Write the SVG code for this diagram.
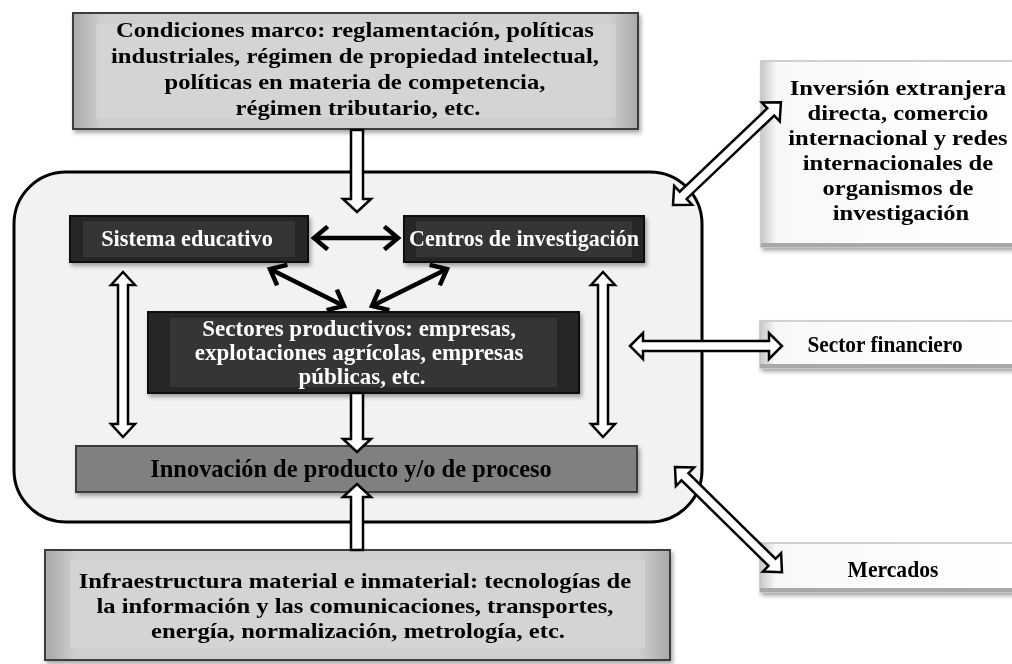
<svg xmlns="http://www.w3.org/2000/svg" width="1012" height="664" viewBox="0 0 1012 664">
  <defs>
    <style>
      .t { font-family: "Liberation Serif", "Times New Roman", serif; font-weight: bold; text-anchor: middle; }
      .dk { fill: #ffffff; }
      .bl { fill: #000000; }
      .hollow { fill: #ffffff; stroke: #000000; stroke-width: 2.5; stroke-linejoin: miter; }
      .solid { fill: none; stroke: #000000; stroke-width: 4.5; marker-start: url(#chev); marker-end: url(#chev); }
      .darkbox { fill: #262626; stroke: #111111; stroke-width: 2; }
      .darkin { fill: #353535; }
      .graybox { fill: url(#grayH); stroke: #3c3c3c; stroke-width: 2; }
      .grayin { fill: #d6d6d6; }
      .rbox { stroke: #c4c4c4; stroke-width: 1.5; }
      .redge { fill: #a8a8a8; }
    </style>
    <linearGradient id="grayH" x1="0" y1="0" x2="1" y2="0">
      <stop offset="0" stop-color="#a8a8a8"/>
      <stop offset="0.05" stop-color="#cfcfcf"/>
      <stop offset="0.95" stop-color="#cfcfcf"/>
      <stop offset="1" stop-color="#a8a8a8"/>
    </linearGradient>
    <linearGradient id="rH" x1="0" y1="0" x2="1" y2="0">
      <stop offset="0" stop-color="#c8c8c8"/>
      <stop offset="0.06" stop-color="#f8f8f8"/>
      <stop offset="1" stop-color="#ffffff"/>
    </linearGradient>
    <filter id="sh" x="-10%" y="-10%" width="120%" height="130%">
      <feDropShadow dx="2" dy="3" stdDeviation="2" flood-color="#000" flood-opacity="0.35"/>
    </filter>
    <marker id="chev" viewBox="-16 -13 20 26" refX="0" refY="0" markerWidth="20" markerHeight="26" markerUnits="userSpaceOnUse" orient="auto-start-reverse">
      <path d="M-12,-10 L0,0 L-12,10" fill="none" stroke="#000" stroke-width="4.5" stroke-linecap="square"/>
    </marker>
  </defs>

  <rect width="1012" height="664" fill="#ffffff"/>

  <!-- container -->
  <g id="container">
    <rect x="14" y="172" width="688" height="350" rx="52" ry="52" fill="#f2f2f2" stroke="#000" stroke-width="3"/>
  </g>

  <!-- nodes -->
  <g id="condiciones-marco" filter="url(#sh)">
    <rect class="graybox" x="73" y="13" width="565" height="116"/>
    <rect class="grayin" x="96" y="24" width="520" height="94" opacity="0.7"/>
    <text class="t bl" font-size="22" transform="translate(358,0) scale(1.12,1)">
      <tspan x="0" y="37">Condiciones marco: reglamentación, políticas</tspan>
      <tspan x="0" y="63">industriales, régimen de propiedad intelectual,</tspan>
      <tspan x="0" y="89">políticas en materia de competencia,</tspan>
      <tspan x="0" y="115">régimen tributario, etc.</tspan>
    </text>
  </g>

  <g id="sistema-educativo" filter="url(#sh)">
    <rect class="darkbox" x="70" y="216" width="238" height="46"/>
    <rect class="darkin" x="83" y="221" width="212" height="36"/>
    <text class="t dk" x="0" y="246" font-size="24" transform="translate(187,0) scale(0.93,1)">Sistema educativo</text>
  </g>

  <g id="centros-investigacion" filter="url(#sh)">
    <rect class="darkbox" x="404" y="216" width="240" height="46"/>
    <rect class="darkin" x="416" y="221" width="216" height="36"/>
    <text class="t dk" x="0" y="246" font-size="24" transform="translate(524,0) scale(0.92,1)">Centros de investigación</text>
  </g>

  <g id="sectores-productivos" filter="url(#sh)">
    <rect class="darkbox" x="148" y="312" width="431" height="81"/>
    <rect class="darkin" x="170" y="318" width="387" height="69"/>
    <text class="t dk" font-size="23">
      <tspan x="362" y="336">Sectores productivos: empresas,</tspan>
      <tspan x="362" y="360">explotaciones agrícolas, empresas</tspan>
      <tspan x="362" y="384">públicas, etc.</tspan>
    </text>
  </g>

  <g id="innovacion" filter="url(#sh)">
    <rect x="76" y="446" width="561" height="46" fill="#808080" stroke="#3a3a3a" stroke-width="2"/>
    <text class="t bl" x="0" y="477" font-size="26" transform="translate(351,0) scale(0.94,1)">Innovación de producto y/o de proceso</text>
  </g>

  <g id="infraestructura" filter="url(#sh)">
    <rect class="graybox" x="45" y="550" width="625" height="110"/>
    <rect class="grayin" x="70" y="560" width="575" height="88" opacity="0.7"/>
    <text class="t bl" font-size="20.5" transform="translate(358,0) scale(1.2,1)">
      <tspan x="0" y="588">Infraestructura material e inmaterial: tecnologías de</tspan>
      <tspan x="0" y="613">la información y las comunicaciones, transportes,</tspan>
      <tspan x="0" y="638">energía, normalización, metrología, etc.</tspan>
    </text>
  </g>

  <g id="inversion-extranjera" filter="url(#sh)">
    <rect class="rbox" x="761" y="61" width="260" height="186" fill="url(#rH)"/>
    <rect class="redge" x="761" y="243" width="260" height="4"/>
    <text class="t bl" font-size="20.5" transform="translate(901,0) scale(1.2,1)">
      <tspan x="0" y="95">Inversión extranjera</tspan>
      <tspan x="0" y="120">directa, comercio</tspan>
      <tspan x="0" y="145">internacional y redes</tspan>
      <tspan x="0" y="170">internacionales de</tspan>
      <tspan x="0" y="195">organismos de</tspan>
      <tspan x="0" y="220">investigación</tspan>
    </text>
  </g>

  <g id="sector-financiero" filter="url(#sh)">
    <rect class="rbox" x="760" y="321" width="260" height="47" fill="url(#rH)"/>
    <rect class="redge" x="760" y="364" width="260" height="4"/>
    <text class="t bl" x="0" y="352" font-size="24" transform="translate(885,0) scale(0.89,1)">Sector financiero</text>
  </g>

  <g id="mercados" filter="url(#sh)">
    <rect class="rbox" x="760" y="543" width="260" height="49" fill="url(#rH)"/>
    <rect class="redge" x="760" y="588" width="260" height="4"/>
    <text class="t bl" x="0" y="577" font-size="24" transform="translate(893,0) scale(0.9,1)">Mercados</text>
  </g>

  <!-- connectors -->
  <g id="connectors">
    <path class="hollow" transform="translate(357,130) rotate(90)" d="M0,-6 L69,-6 L69,-14 L82,0 L69,14 L69,6 L0,6 Z"/>
    <path class="hollow" transform="translate(357,393) rotate(90)" d="M0,-6 L46,-6 L46,-14 L59,0 L46,14 L46,6 L0,6 Z"/>
    <path class="hollow" transform="translate(357,550) rotate(-90)" d="M0,-6 L53,-6 L53,-14 L66,0 L53,14 L53,6 L0,6 Z"/>
    <path class="hollow" transform="translate(123,272) rotate(90)" d="M0,0 L13,-12 L13,-5 L152,-5 L152,-12 L165,0 L152,12 L152,5 L13,5 L13,12 Z"/>
    <path class="hollow" transform="translate(603,272) rotate(90)" d="M0,0 L13,-12 L13,-5 L152,-5 L152,-12 L165,0 L152,12 L152,5 L13,5 L13,12 Z"/>
    <path class="hollow" transform="translate(630,346)" d="M0,0 L13,-13 L13,-5 L139,-5 L139,-13 L152,0 L139,13 L139,5 L13,5 L13,13 Z"/>
    <path class="hollow" transform="translate(673,205) rotate(-43.6)" d="M0,0 L14,-13 L14,-5 L135,-5 L135,-13 L149,0 L135,13 L135,5 L14,5 L14,13 Z"/>
    <path class="hollow" transform="translate(675,467) rotate(44.5)" d="M0,0 L14,-13 L14,-5 L136,-5 L136,-13 L150,0 L136,13 L136,5 L14,5 L14,13 Z"/>
    <line class="solid" x1="314" y1="238" x2="398" y2="238"/>
    <line class="solid" x1="270" y1="269" x2="344" y2="306"/>
    <line class="solid" x1="447" y1="269" x2="372" y2="306"/>
  </g>
</svg>
